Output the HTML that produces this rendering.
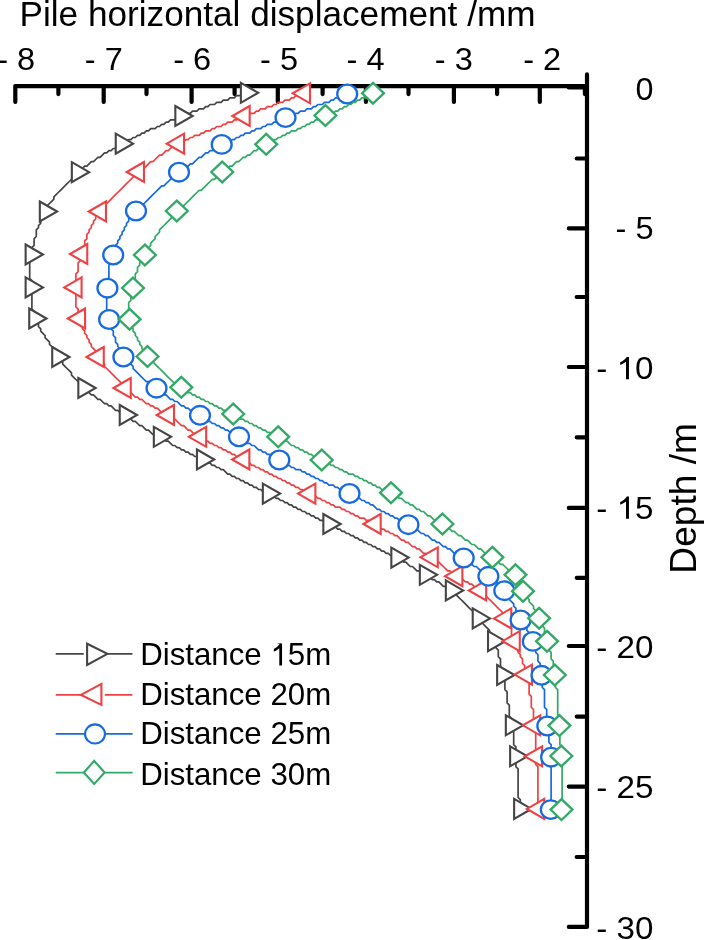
<!DOCTYPE html><html><head><meta charset="utf-8"><style>html,body{margin:0;padding:0;background:#fff;}svg{display:block;will-change:transform;}text{font-family:"Liberation Sans",sans-serif;fill:#000;}</style></head><body>
<svg width="704" height="940" viewBox="0 0 704 940">
<rect width="704" height="940" fill="#fff"/>
<text x="19.50" y="25.8" font-size="34.6" textLength="516.00" lengthAdjust="spacingAndGlyphs">Pile horizontal displacement /mm</text>
<path d="M15.2 86.2H587 M15.30 86.2V101.9 M103.70 86.2V101.9 M191.60 86.2V101.9 M277.80 86.2V101.9 M365.90 86.2V101.9 M453.90 86.2V101.9 M539.80 86.2V101.9 M58.40 86.2V94.1 M146.50 86.2V94.1 M234.60 86.2V94.1 M322.60 86.2V94.1 M408.50 86.2V94.1 M497.10 86.2V94.1 M584.90 86.2V94.1" stroke="#000" stroke-width="4.2" fill="none" stroke-linecap="round"/>
<path d="M587 74.4V926.9 M568.8 87.50H587 M568.8 228.30H587 M568.8 367.00H587 M568.8 507.90H587 M568.8 646.00H587 M568.8 786.60H587 M568.8 926.90H587 M576.7 158.50H587 M576.7 297.00H587 M576.7 437.30H587 M576.7 577.80H587 M576.7 716.60H587 M576.7 857.00H587" stroke="#000" stroke-width="4.2" fill="none" stroke-linecap="round"/>
<text x="16.15" y="69.70" font-size="31.20" text-anchor="middle" textLength="38.00" lengthAdjust="spacingAndGlyphs">- 8</text>
<text x="103.85" y="69.70" font-size="31.20" text-anchor="middle" textLength="38.00" lengthAdjust="spacingAndGlyphs">- 7</text>
<text x="192.15" y="69.70" font-size="31.20" text-anchor="middle" textLength="38.00" lengthAdjust="spacingAndGlyphs">- 6</text>
<text x="279.00" y="69.70" font-size="31.20" text-anchor="middle" textLength="38.00" lengthAdjust="spacingAndGlyphs">- 5</text>
<text x="365.60" y="69.70" font-size="31.20" text-anchor="middle" textLength="38.00" lengthAdjust="spacingAndGlyphs">- 4</text>
<text x="453.85" y="69.70" font-size="31.20" text-anchor="middle" textLength="38.00" lengthAdjust="spacingAndGlyphs">- 3</text>
<text x="542.15" y="69.70" font-size="31.20" text-anchor="middle" textLength="38.00" lengthAdjust="spacingAndGlyphs">- 2</text>
<text x="653.50" y="100.25" font-size="31.20" text-anchor="end" textLength="18.00" lengthAdjust="spacingAndGlyphs">0</text>
<text x="653.50" y="238.85" font-size="31.20" text-anchor="end" textLength="38.00" lengthAdjust="spacingAndGlyphs">- 5</text>
<text x="653.50" y="379.25" font-size="31.20" text-anchor="end" textLength="57.20" lengthAdjust="spacingAndGlyphs">- 10</text>
<text x="653.50" y="518.85" font-size="31.20" text-anchor="end" textLength="57.20" lengthAdjust="spacingAndGlyphs">- 15</text>
<text x="653.50" y="657.85" font-size="31.20" text-anchor="end" textLength="57.20" lengthAdjust="spacingAndGlyphs">- 20</text>
<text x="653.50" y="798.35" font-size="31.20" text-anchor="end" textLength="57.20" lengthAdjust="spacingAndGlyphs">- 25</text>
<text x="653.50" y="938.85" font-size="31.20" text-anchor="end" textLength="57.20" lengthAdjust="spacingAndGlyphs">- 30</text>
<text transform="translate(695.60 498.40) rotate(-90)" x="0" y="0" font-size="36.5" text-anchor="middle" textLength="150.50" lengthAdjust="spacingAndGlyphs">Depth /m</text>
<path d="M247.50 93.50L245.30 93.50L243.10 93.50L240.90 95.70L238.70 95.70L236.50 95.70L234.30 97.90L232.10 97.90L229.90 97.90L227.70 100.10L225.50 100.10L223.30 100.10L221.10 102.30L218.90 102.30L216.70 102.30L214.50 104.50L212.30 104.50L210.10 104.50L207.90 106.70L205.70 106.70L203.50 108.90L201.30 108.90L199.10 108.90L196.90 111.10L194.70 111.10L192.50 111.10L190.30 113.30L188.10 113.30L185.90 115.50L183.70 115.50L181.50 115.50L179.30 117.70L177.10 117.70L174.90 119.90L172.70 119.90L170.50 119.90L168.30 122.10L166.10 122.10L163.90 124.30L161.70 124.30L159.50 126.50L157.30 126.50L155.10 128.70L152.90 128.70L150.70 128.70L148.50 130.90L146.30 130.90L144.10 133.10L141.90 133.10L139.70 135.30L137.50 135.30L135.30 137.50L133.10 137.50L130.90 139.70L128.70 139.70L126.50 141.90L124.30 141.90L122.10 144.10L119.90 144.10L117.70 146.30L115.50 148.50L113.30 148.50L111.10 150.70L108.90 150.70L106.70 152.90L104.50 152.90L102.30 155.10L100.10 157.30L97.90 157.30L95.70 159.50L93.50 161.70L91.30 161.70L89.10 163.90L86.90 166.10L84.70 166.10L82.50 168.30L80.30 170.50L78.10 172.70L75.90 174.90L73.70 177.10L71.50 179.30L69.30 181.50L67.10 183.70L64.90 185.90L62.70 188.10L60.50 190.30L58.30 192.50L56.10 194.70L53.90 196.90L53.90 199.10L51.70 201.30L49.50 203.50L47.30 205.70L47.30 207.90L45.10 210.10L45.10 212.30L42.90 214.50L42.90 216.70L40.70 218.90L40.70 221.10L40.70 223.30L38.50 225.50L38.50 227.70L36.30 229.90L36.30 232.10L36.30 234.30L36.30 236.50L34.10 238.70L34.10 240.90L34.10 243.10L34.10 245.30L31.90 247.50L31.90 249.70L31.90 251.90L31.90 254.10L31.90 256.30L29.70 258.50L29.70 260.70L29.70 262.90L29.70 265.10L29.70 267.30L29.70 269.50L29.70 271.70L29.70 273.90L29.70 276.10L29.70 278.30L31.90 280.50L31.90 282.70L31.90 284.90L31.90 287.10L31.90 289.30L31.90 291.50L31.90 293.70L31.90 295.90L31.90 298.10L31.90 300.30L31.90 302.50L31.90 304.70L31.90 306.90L31.90 309.10L34.10 311.30L34.10 313.50L34.10 315.70L34.10 317.90L36.30 320.10L36.30 322.30L38.50 324.50L38.50 326.70L40.70 328.90L40.70 331.10L42.90 333.30L45.10 335.50L45.10 337.70L47.30 339.90L49.50 342.10L49.50 344.30L51.70 346.50L53.90 348.70L53.90 350.90L56.10 353.10L58.30 355.30L58.30 357.50L60.50 359.70L62.70 361.90L62.70 364.10L64.90 366.30L67.10 368.50L69.30 370.70L71.50 372.90L71.50 375.10L73.70 377.30L75.90 379.50L78.10 381.70L80.30 383.90L82.50 386.10L84.70 388.30L86.90 390.50L89.10 392.70L91.30 394.90L93.50 394.90L95.70 397.10L97.90 399.30L100.10 399.30L102.30 401.50L104.50 403.70L106.70 403.70L108.90 405.90L111.10 405.90L113.30 408.10L115.50 410.30L117.70 410.30L119.90 412.50L122.10 412.50L124.30 414.70L126.50 416.90L128.70 416.90L130.90 419.10L133.10 421.30L135.30 421.30L137.50 423.50L139.70 425.70L141.90 425.70L144.10 427.90L146.30 430.10L148.50 430.10L150.70 432.30L152.90 434.50L155.10 434.50L157.30 436.70L159.50 436.70L161.70 438.90L163.90 438.90L166.10 441.10L168.30 441.10L170.50 443.30L172.70 445.50L174.90 445.50L177.10 447.70L179.30 447.70L181.50 449.90L183.70 449.90L185.90 452.10L188.10 452.10L190.30 454.30L192.50 454.30L194.70 456.50L196.90 456.50L199.10 458.70L201.30 458.70L203.50 460.90L205.70 460.90L207.90 463.10L210.10 463.10L212.30 465.30L214.50 465.30L216.70 467.50L218.90 467.50L221.10 469.70L223.30 469.70L225.50 471.90L227.70 474.10L229.90 474.10L232.10 476.30L234.30 476.30L236.50 478.50L238.70 478.50L240.90 480.70L243.10 480.70L245.30 482.90L247.50 482.90L249.70 485.10L251.90 485.10L254.10 487.30L256.30 487.30L258.50 489.50L260.70 489.50L262.90 491.70L265.10 491.70L267.30 493.90L269.50 493.90L271.70 496.10L273.90 496.10L276.10 498.30L278.30 498.30L280.50 500.50L282.70 500.50L284.90 502.70L287.10 502.70L289.30 504.90L291.50 504.90L293.70 507.10L295.90 507.10L298.10 509.30L300.30 509.30L302.50 511.50L304.70 511.50L306.90 513.70L309.10 513.70L311.30 515.90L313.50 515.90L315.70 518.10L317.90 518.10L320.10 520.30L322.30 520.30L324.50 522.50L326.70 522.50L328.90 524.70L331.10 524.70L333.30 526.90L335.50 526.90L337.70 529.10L339.90 529.10L342.10 531.30L344.30 531.30L346.50 533.50L348.70 533.50L350.90 535.70L353.10 535.70L355.30 537.90L357.50 537.90L359.70 540.10L361.90 540.10L364.10 542.30L366.30 542.30L368.50 544.50L370.70 544.50L372.90 546.70L375.10 546.70L377.30 548.90L379.50 548.90L381.70 551.10L383.90 551.10L386.10 553.30L388.30 553.30L390.50 555.50L392.70 555.50L394.90 557.70L397.10 557.70L399.30 559.90L401.50 559.90L403.70 562.10L405.90 562.10L408.10 564.30L410.30 566.50L412.50 566.50L414.70 568.70L416.90 570.90L419.10 570.90L421.30 573.10L423.50 573.10L425.70 575.30L427.90 577.50L430.10 577.50L432.30 579.70L434.50 579.70L436.70 581.90L438.90 581.90L441.10 584.10L443.30 586.30L445.50 586.30L447.70 588.50L449.90 590.70L452.10 590.70L454.30 592.90L456.50 595.10L458.70 597.30L460.90 599.50L463.10 601.70L465.30 603.90L467.50 606.10L469.70 608.30L471.90 610.50L474.10 612.70L476.30 614.90L478.50 617.10L480.70 619.30L482.90 621.50L482.90 623.70L485.10 625.90L487.30 628.10L489.50 630.30L489.50 632.50L491.70 634.70L491.70 636.90L493.90 639.10L493.90 641.30L496.10 643.50L496.10 645.70L496.10 647.90L498.30 650.10L498.30 652.30L498.30 654.50L498.30 656.70L500.50 658.90L500.50 661.10L500.50 663.30L500.50 665.50L500.50 667.70L502.70 669.90L502.70 672.10L502.70 674.30L502.70 676.50L504.90 678.70L504.90 680.90L504.90 683.10L504.90 685.30L504.90 687.50L504.90 689.70L507.10 691.90L507.10 694.10L507.10 696.30L507.10 698.50L507.10 700.70L507.10 702.90L509.30 705.10L509.30 707.30L509.30 709.50L509.30 711.70L509.30 713.90L509.30 716.10L511.50 718.30L511.50 720.50L511.50 722.70L511.50 724.90L511.50 727.10L511.50 729.30L513.70 731.50L513.70 733.70L513.70 735.90L513.70 738.10L513.70 740.30L513.70 742.50L513.70 744.70L515.90 746.90L515.90 749.10L515.90 751.30L515.90 753.50L515.90 755.70L515.90 757.90L515.90 760.10L515.90 762.30L515.90 764.50L515.90 766.70L518.10 768.90L518.10 771.10L518.10 773.30L518.10 775.50L518.10 777.70L518.10 779.90L518.10 782.10L518.10 784.30L518.10 786.50L518.10 788.70L518.10 790.90L518.10 793.10L518.10 795.30L518.10 797.50L520.30 799.70L520.30 801.90L520.30 804.10L520.30 806.30L520.30 808.50" stroke="#454545" stroke-width="1.7" fill="none" stroke-linejoin="round"/>
<g stroke="#454545" stroke-width="2.10" fill="#fff">
<path d="M240.88 82.80L258.20 92.80L240.88 102.80Z"/>
<path d="M175.33 106.00L192.65 116.00L175.33 126.00Z"/>
<path d="M115.73 133.70L133.05 143.70L115.73 153.70Z"/>
<path d="M71.83 162.20L89.15 172.20L71.83 182.20Z"/>
<path d="M39.83 201.50L57.15 211.50L39.83 221.50Z"/>
<path d="M25.63 244.50L42.95 254.50L25.63 264.50Z"/>
<path d="M25.63 277.40L42.95 287.40L25.63 297.40Z"/>
<path d="M29.23 308.50L46.55 318.50L29.23 328.50Z"/>
<path d="M52.23 347.00L69.55 357.00L52.23 367.00Z"/>
<path d="M78.33 378.00L95.65 388.00L78.33 398.00Z"/>
<path d="M119.73 405.00L137.05 415.00L119.73 425.00Z"/>
<path d="M153.83 426.80L171.15 436.80L153.83 446.80Z"/>
<path d="M196.93 449.50L214.25 459.50L196.93 469.50Z"/>
<path d="M262.83 483.60L280.15 493.60L262.83 503.60Z"/>
<path d="M323.33 514.00L340.65 524.00L323.33 534.00Z"/>
<path d="M391.33 547.60L408.65 557.60L391.33 567.60Z"/>
<path d="M419.83 564.80L437.15 574.80L419.83 584.80Z"/>
<path d="M445.83 580.40L463.15 590.40L445.83 600.40Z"/>
<path d="M472.73 608.40L490.05 618.40L472.73 628.40Z"/>
<path d="M488.03 631.20L505.35 641.20L488.03 651.20Z"/>
<path d="M497.13 665.00L514.45 675.00L497.13 685.00Z"/>
<path d="M505.83 715.30L523.15 725.30L505.83 735.30Z"/>
<path d="M510.13 746.30L527.45 756.30L510.13 766.30Z"/>
<path d="M514.13 798.90L531.45 808.90L514.13 818.90Z"/>
</g>
<path d="M304.70 93.50L302.50 93.50L300.30 95.70L298.10 95.70L295.90 95.70L293.70 97.90L291.50 97.90L289.30 100.10L287.10 100.10L284.90 100.10L282.70 102.30L280.50 102.30L278.30 102.30L276.10 104.50L273.90 104.50L271.70 106.70L269.50 106.70L267.30 106.70L265.10 108.90L262.90 108.90L260.70 108.90L258.50 111.10L256.30 111.10L254.10 113.30L251.90 113.30L249.70 113.30L247.50 115.50L245.30 115.50L243.10 117.70L240.90 117.70L238.70 117.70L236.50 119.90L234.30 119.90L232.10 122.10L229.90 122.10L227.70 122.10L225.50 124.30L223.30 124.30L221.10 126.50L218.90 126.50L216.70 126.50L214.50 128.70L212.30 128.70L210.10 130.90L207.90 130.90L205.70 130.90L203.50 133.10L201.30 133.10L199.10 135.30L196.90 135.30L194.70 135.30L192.50 137.50L190.30 137.50L188.10 139.70L185.90 139.70L183.70 141.90L181.50 141.90L179.30 144.10L177.10 144.10L174.90 146.30L172.70 146.30L170.50 148.50L168.30 150.70L166.10 150.70L163.90 152.90L161.70 155.10L159.50 155.10L157.30 157.30L155.10 159.50L152.90 161.70L150.70 161.70L148.50 163.90L146.30 166.10L144.10 168.30L141.90 170.50L139.70 170.50L137.50 172.70L135.30 174.90L133.10 177.10L130.90 179.30L128.70 181.50L126.50 183.70L124.30 185.90L122.10 188.10L119.90 190.30L117.70 192.50L115.50 194.70L113.30 196.90L111.10 199.10L108.90 201.30L106.70 203.50L104.50 205.70L102.30 207.90L100.10 210.10L100.10 212.30L97.90 214.50L95.70 216.70L95.70 218.90L93.50 221.10L93.50 223.30L91.30 225.50L91.30 227.70L89.10 229.90L89.10 232.10L86.90 234.30L86.90 236.50L86.90 238.70L84.70 240.90L84.70 243.10L84.70 245.30L82.50 247.50L82.50 249.70L82.50 251.90L80.30 254.10L80.30 256.30L80.30 258.50L80.30 260.70L78.10 262.90L78.10 265.10L78.10 267.30L78.10 269.50L78.10 271.70L75.90 273.90L75.90 276.10L75.90 278.30L75.90 280.50L75.90 282.70L75.90 284.90L75.90 287.10L75.90 289.30L75.90 291.50L75.90 293.70L75.90 295.90L75.90 298.10L75.90 300.30L75.90 302.50L75.90 304.70L75.90 306.90L78.10 309.10L78.10 311.30L78.10 313.50L78.10 315.70L80.30 317.90L80.30 320.10L80.30 322.30L82.50 324.50L82.50 326.70L82.50 328.90L84.70 331.10L84.70 333.30L86.90 335.50L86.90 337.70L89.10 339.90L89.10 342.10L91.30 344.30L91.30 346.50L93.50 348.70L95.70 350.90L95.70 353.10L97.90 355.30L100.10 357.50L100.10 359.70L102.30 361.90L104.50 364.10L104.50 366.30L106.70 368.50L108.90 370.70L111.10 372.90L113.30 375.10L115.50 377.30L117.70 379.50L119.90 381.70L122.10 383.90L124.30 386.10L126.50 388.30L128.70 390.50L130.90 392.70L133.10 394.90L135.30 397.10L137.50 397.10L139.70 399.30L141.90 399.30L144.10 401.50L146.30 403.70L148.50 403.70L150.70 405.90L152.90 405.90L155.10 408.10L157.30 408.10L159.50 410.30L161.70 412.50L163.90 412.50L166.10 414.70L168.30 414.70L170.50 416.90L172.70 419.10L174.90 419.10L177.10 421.30L179.30 423.50L181.50 425.70L183.70 425.70L185.90 427.90L188.10 430.10L190.30 430.10L192.50 432.30L194.70 434.50L196.90 434.50L199.10 436.70L201.30 438.90L203.50 438.90L205.70 441.10L207.90 441.10L210.10 443.30L212.30 443.30L214.50 445.50L216.70 445.50L218.90 447.70L221.10 447.70L223.30 449.90L225.50 449.90L227.70 452.10L229.90 452.10L232.10 454.30L234.30 454.30L236.50 456.50L238.70 456.50L240.90 458.70L243.10 460.90L245.30 460.90L247.50 463.10L249.70 463.10L251.90 465.30L254.10 465.30L256.30 467.50L258.50 467.50L260.70 469.70L262.90 469.70L265.10 471.90L267.30 471.90L269.50 474.10L271.70 474.10L273.90 476.30L276.10 476.30L278.30 478.50L280.50 478.50L282.70 480.70L284.90 480.70L287.10 482.90L289.30 482.90L291.50 485.10L293.70 485.10L295.90 487.30L298.10 487.30L300.30 489.50L302.50 489.50L304.70 491.70L306.90 491.70L309.10 493.90L311.30 493.90L313.50 496.10L315.70 496.10L317.90 498.30L320.10 498.30L322.30 500.50L324.50 500.50L326.70 502.70L328.90 502.70L331.10 504.90L333.30 504.90L335.50 507.10L337.70 507.10L339.90 507.10L342.10 509.30L344.30 509.30L346.50 511.50L348.70 511.50L350.90 513.70L353.10 513.70L355.30 515.90L357.50 515.90L359.70 518.10L361.90 518.10L364.10 518.10L366.30 520.30L368.50 520.30L370.70 522.50L372.90 522.50L375.10 524.70L377.30 524.70L379.50 526.90L381.70 529.10L383.90 529.10L386.10 531.30L388.30 531.30L390.50 533.50L392.70 533.50L394.90 535.70L397.10 535.70L399.30 537.90L401.50 540.10L403.70 540.10L405.90 542.30L408.10 542.30L410.30 544.50L412.50 546.70L414.70 546.70L416.90 548.90L419.10 548.90L421.30 551.10L423.50 553.30L425.70 553.30L427.90 555.50L430.10 557.70L432.30 557.70L434.50 559.90L436.70 562.10L438.90 562.10L441.10 564.30L443.30 566.50L445.50 568.70L447.70 570.90L449.90 570.90L452.10 573.10L454.30 575.30L456.50 577.50L458.70 577.50L460.90 579.70L463.10 579.70L465.30 581.90L467.50 581.90L469.70 584.10L471.90 584.10L474.10 586.30L476.30 588.50L478.50 590.70L480.70 590.70L482.90 592.90L485.10 595.10L487.30 597.30L489.50 599.50L491.70 601.70L493.90 603.90L496.10 606.10L498.30 608.30L500.50 610.50L502.70 612.70L502.70 614.90L504.90 617.10L507.10 619.30L507.10 621.50L509.30 623.70L509.30 625.90L511.50 628.10L511.50 630.30L511.50 632.50L511.50 634.70L513.70 636.90L513.70 639.10L513.70 641.30L515.90 643.50L515.90 645.70L518.10 647.90L518.10 650.10L518.10 652.30L520.30 654.50L520.30 656.70L522.50 658.90L522.50 661.10L522.50 663.30L524.70 665.50L524.70 667.70L524.70 669.90L526.90 672.10L526.90 674.30L526.90 676.50L526.90 678.70L526.90 680.90L529.10 683.10L529.10 685.30L529.10 687.50L529.10 689.70L529.10 691.90L529.10 694.10L531.30 696.30L531.30 698.50L531.30 700.70L531.30 702.90L531.30 705.10L531.30 707.30L533.50 709.50L533.50 711.70L533.50 713.90L533.50 716.10L533.50 718.30L533.50 720.50L533.50 722.70L533.50 724.90L535.70 727.10L535.70 729.30L535.70 731.50L535.70 733.70L535.70 735.90L535.70 738.10L535.70 740.30L535.70 742.50L535.70 744.70L535.70 746.90L535.70 749.10L535.70 751.30L535.70 753.50L535.70 755.70L535.70 757.90L535.70 760.10L535.70 762.30L535.70 764.50L537.90 766.70L537.90 768.90L537.90 771.10L537.90 773.30L537.90 775.50L537.90 777.70L537.90 779.90L537.90 782.10L537.90 784.30L537.90 786.50L537.90 788.70L537.90 790.90L537.90 793.10L537.90 795.30L537.90 797.50L537.90 799.70L537.90 801.90L537.90 804.10L537.90 806.30L537.90 808.50" stroke="#ef4143" stroke-width="1.7" fill="none" stroke-linejoin="round"/>
<g stroke="#ef4143" stroke-width="2.10" fill="#fff">
<path d="M309.97 83.30L292.65 93.30L309.97 103.30Z"/>
<path d="M249.67 106.00L232.35 116.00L249.67 126.00Z"/>
<path d="M184.07 133.70L166.75 143.70L184.07 153.70Z"/>
<path d="M143.97 162.00L126.65 172.00L143.97 182.00Z"/>
<path d="M105.97 201.50L88.65 211.50L105.97 221.50Z"/>
<path d="M87.27 244.00L69.95 254.00L87.27 264.00Z"/>
<path d="M81.57 277.40L64.25 287.40L81.57 297.40Z"/>
<path d="M85.07 308.50L67.75 318.50L85.07 328.50Z"/>
<path d="M103.77 347.00L86.45 357.00L103.77 367.00Z"/>
<path d="M130.77 378.00L113.45 388.00L130.77 398.00Z"/>
<path d="M173.97 405.00L156.65 415.00L173.97 425.00Z"/>
<path d="M206.17 426.80L188.85 436.80L206.17 446.80Z"/>
<path d="M249.37 449.50L232.05 459.50L249.37 469.50Z"/>
<path d="M315.37 483.60L298.05 493.60L315.37 503.60Z"/>
<path d="M380.67 514.00L363.35 524.00L380.67 534.00Z"/>
<path d="M437.77 547.30L420.45 557.30L437.77 567.30Z"/>
<path d="M462.37 566.20L445.05 576.20L462.37 586.20Z"/>
<path d="M486.17 580.40L468.85 590.40L486.17 600.40Z"/>
<path d="M511.27 608.40L493.95 618.40L511.27 628.40Z"/>
<path d="M519.77 631.20L502.45 641.20L519.77 651.20Z"/>
<path d="M531.97 664.60L514.65 674.60L531.97 684.60Z"/>
<path d="M540.17 715.30L522.85 725.30L540.17 735.30Z"/>
<path d="M542.07 746.30L524.75 756.30L542.07 766.30Z"/>
<path d="M544.27 798.90L526.95 808.90L544.27 818.90Z"/>
</g>
<path d="M346.50 93.50L344.30 95.70L342.10 95.70L339.90 97.90L337.70 97.90L335.50 97.90L333.30 100.10L331.10 100.10L328.90 102.30L326.70 102.30L324.50 102.30L322.30 104.50L320.10 104.50L317.90 104.50L315.70 106.70L313.50 106.70L311.30 108.90L309.10 108.90L306.90 108.90L304.70 111.10L302.50 111.10L300.30 111.10L298.10 113.30L295.90 113.30L293.70 115.50L291.50 115.50L289.30 115.50L287.10 117.70L284.90 117.70L282.70 119.90L280.50 119.90L278.30 119.90L276.10 122.10L273.90 122.10L271.70 124.30L269.50 124.30L267.30 124.30L265.10 126.50L262.90 126.50L260.70 128.70L258.50 128.70L256.30 128.70L254.10 130.90L251.90 130.90L249.70 133.10L247.50 133.10L245.30 133.10L243.10 135.30L240.90 135.30L238.70 137.50L236.50 137.50L234.30 139.70L232.10 139.70L229.90 141.90L227.70 141.90L225.50 141.90L223.30 144.10L221.10 146.30L218.90 146.30L216.70 148.50L214.50 148.50L212.30 150.70L210.10 150.70L207.90 152.90L205.70 152.90L203.50 155.10L201.30 157.30L199.10 157.30L196.90 159.50L194.70 161.70L192.50 163.90L190.30 163.90L188.10 166.10L185.90 168.30L183.70 168.30L181.50 170.50L179.30 172.70L177.10 174.90L174.90 177.10L172.70 177.10L170.50 179.30L168.30 181.50L166.10 183.70L163.90 185.90L161.70 185.90L159.50 188.10L157.30 190.30L155.10 192.50L152.90 194.70L150.70 196.90L148.50 199.10L146.30 201.30L144.10 203.50L141.90 205.70L139.70 207.90L137.50 210.10L135.30 212.30L133.10 214.50L130.90 216.70L128.70 218.90L128.70 221.10L126.50 223.30L126.50 225.50L124.30 227.70L124.30 229.90L122.10 232.10L122.10 234.30L119.90 236.50L119.90 238.70L117.70 240.90L117.70 243.10L115.50 245.30L115.50 247.50L115.50 249.70L113.30 251.90L113.30 254.10L113.30 256.30L111.10 258.50L111.10 260.70L111.10 262.90L108.90 265.10L108.90 267.30L108.90 269.50L108.90 271.70L108.90 273.90L108.90 276.10L108.90 278.30L108.90 280.50L106.70 282.70L106.70 284.90L106.70 287.10L106.70 289.30L106.70 291.50L106.70 293.70L106.70 295.90L106.70 298.10L106.70 300.30L106.70 302.50L106.70 304.70L106.70 306.90L106.70 309.10L106.70 311.30L108.90 313.50L108.90 315.70L108.90 317.90L108.90 320.10L111.10 322.30L111.10 324.50L111.10 326.70L111.10 328.90L113.30 331.10L113.30 333.30L113.30 335.50L115.50 337.70L115.50 339.90L115.50 342.10L117.70 344.30L117.70 346.50L119.90 348.70L119.90 350.90L122.10 353.10L122.10 355.30L124.30 357.50L126.50 359.70L128.70 361.90L130.90 364.10L133.10 366.30L133.10 368.50L135.30 370.70L137.50 372.90L139.70 375.10L141.90 377.30L144.10 379.50L146.30 381.70L148.50 381.70L150.70 383.90L152.90 386.10L155.10 388.30L157.30 390.50L159.50 390.50L161.70 392.70L163.90 394.90L166.10 394.90L168.30 397.10L170.50 399.30L172.70 399.30L174.90 401.50L177.10 401.50L179.30 403.70L181.50 405.90L183.70 405.90L185.90 408.10L188.10 408.10L190.30 410.30L192.50 412.50L194.70 412.50L196.90 414.70L199.10 414.70L201.30 416.90L203.50 416.90L205.70 419.10L207.90 421.30L210.10 421.30L212.30 423.50L214.50 423.50L216.70 425.70L218.90 425.70L221.10 427.90L223.30 427.90L225.50 430.10L227.70 430.10L229.90 432.30L232.10 434.50L234.30 434.50L236.50 436.70L238.70 436.70L240.90 438.90L243.10 438.90L245.30 441.10L247.50 443.30L249.70 443.30L251.90 445.50L254.10 445.50L256.30 447.70L258.50 449.90L260.70 449.90L262.90 452.10L265.10 452.10L267.30 454.30L269.50 454.30L271.70 456.50L273.90 458.70L276.10 458.70L278.30 460.90L280.50 460.90L282.70 463.10L284.90 463.10L287.10 465.30L289.30 465.30L291.50 467.50L293.70 467.50L295.90 469.70L298.10 469.70L300.30 469.70L302.50 471.90L304.70 471.90L306.90 474.10L309.10 474.10L311.30 476.30L313.50 476.30L315.70 478.50L317.90 478.50L320.10 480.70L322.30 480.70L324.50 482.90L326.70 482.90L328.90 485.10L331.10 485.10L333.30 485.10L335.50 487.30L337.70 487.30L339.90 489.50L342.10 489.50L344.30 491.70L346.50 491.70L348.70 493.90L350.90 493.90L353.10 496.10L355.30 496.10L357.50 498.30L359.70 498.30L361.90 500.50L364.10 500.50L366.30 502.70L368.50 502.70L370.70 504.90L372.90 504.90L375.10 507.10L377.30 509.30L379.50 509.30L381.70 511.50L383.90 511.50L386.10 513.70L388.30 513.70L390.50 515.90L392.70 515.90L394.90 518.10L397.10 518.10L399.30 520.30L401.50 522.50L403.70 522.50L405.90 524.70L408.10 524.70L410.30 526.90L412.50 526.90L414.70 529.10L416.90 529.10L419.10 531.30L421.30 533.50L423.50 533.50L425.70 535.70L427.90 535.70L430.10 537.90L432.30 540.10L434.50 540.10L436.70 542.30L438.90 542.30L441.10 544.50L443.30 546.70L445.50 546.70L447.70 548.90L449.90 548.90L452.10 551.10L454.30 553.30L456.50 553.30L458.70 555.50L460.90 557.70L463.10 557.70L465.30 559.90L467.50 562.10L469.70 562.10L471.90 564.30L474.10 566.50L476.30 566.50L478.50 568.70L480.70 570.90L482.90 573.10L485.10 575.30L487.30 575.30L489.50 577.50L491.70 579.70L493.90 581.90L496.10 581.90L498.30 584.10L500.50 586.30L502.70 588.50L504.90 590.70L507.10 592.90L507.10 595.10L509.30 597.30L509.30 599.50L511.50 601.70L513.70 603.90L513.70 606.10L515.90 608.30L515.90 610.50L518.10 612.70L518.10 614.90L520.30 617.10L520.30 619.30L522.50 621.50L522.50 623.70L524.70 625.90L526.90 628.10L526.90 630.30L529.10 632.50L531.30 634.70L531.30 636.90L531.30 639.10L533.50 641.30L533.50 643.50L535.70 645.70L535.70 647.90L535.70 650.10L535.70 652.30L537.90 654.50L537.90 656.70L537.90 658.90L537.90 661.10L540.10 663.30L540.10 665.50L540.10 667.70L540.10 669.90L540.10 672.10L542.30 674.30L542.30 676.50L542.30 678.70L542.30 680.90L542.30 683.10L542.30 685.30L542.30 687.50L544.50 689.70L544.50 691.90L544.50 694.10L544.50 696.30L544.50 698.50L544.50 700.70L544.50 702.90L544.50 705.10L544.50 707.30L546.70 709.50L546.70 711.70L546.70 713.90L546.70 716.10L546.70 718.30L546.70 720.50L546.70 722.70L546.70 724.90L546.70 727.10L548.90 729.30L548.90 731.50L548.90 733.70L548.90 735.90L548.90 738.10L548.90 740.30L548.90 742.50L551.10 744.70L551.10 746.90L551.10 749.10L551.10 751.30L551.10 753.50L551.10 755.70L551.10 757.90L551.10 760.10L551.10 762.30L551.10 764.50L551.10 766.70L551.10 768.90L551.10 771.10L551.10 773.30L551.10 775.50L551.10 777.70L551.10 779.90L551.10 782.10L551.10 784.30L551.10 786.50L551.10 788.70L551.10 790.90L551.10 793.10L551.10 795.30L551.10 797.50L551.10 799.70L551.10 801.90L551.10 804.10L551.10 806.30L551.10 808.50L551.10 810.70" stroke="#176ae0" stroke-width="1.7" fill="none" stroke-linejoin="round"/>
<g stroke="#176ae0" stroke-width="2.30" fill="#fff">
<ellipse cx="347.20" cy="94.00" rx="9.95" ry="9.30"/>
<ellipse cx="285.50" cy="117.60" rx="9.95" ry="9.30"/>
<ellipse cx="221.70" cy="144.40" rx="9.95" ry="9.30"/>
<ellipse cx="179.00" cy="172.20" rx="9.95" ry="9.30"/>
<ellipse cx="136.00" cy="211.00" rx="9.95" ry="9.30"/>
<ellipse cx="113.20" cy="255.00" rx="9.95" ry="9.30"/>
<ellipse cx="107.40" cy="288.20" rx="9.95" ry="9.30"/>
<ellipse cx="109.10" cy="319.50" rx="9.95" ry="9.30"/>
<ellipse cx="123.40" cy="357.00" rx="9.95" ry="9.30"/>
<ellipse cx="156.50" cy="388.20" rx="9.95" ry="9.30"/>
<ellipse cx="200.00" cy="415.30" rx="9.95" ry="9.30"/>
<ellipse cx="239.00" cy="436.80" rx="9.95" ry="9.30"/>
<ellipse cx="279.30" cy="460.00" rx="9.95" ry="9.30"/>
<ellipse cx="349.50" cy="493.50" rx="9.95" ry="9.30"/>
<ellipse cx="408.40" cy="524.70" rx="9.95" ry="9.30"/>
<ellipse cx="463.70" cy="558.00" rx="9.95" ry="9.30"/>
<ellipse cx="488.40" cy="576.30" rx="9.95" ry="9.30"/>
<ellipse cx="504.30" cy="590.70" rx="9.95" ry="9.30"/>
<ellipse cx="520.60" cy="620.00" rx="9.95" ry="9.30"/>
<ellipse cx="532.80" cy="641.40" rx="9.95" ry="9.30"/>
<ellipse cx="541.50" cy="675.30" rx="9.95" ry="9.30"/>
<ellipse cx="547.30" cy="726.00" rx="9.95" ry="9.30"/>
<ellipse cx="551.10" cy="757.20" rx="9.95" ry="9.30"/>
<ellipse cx="550.80" cy="809.60" rx="9.95" ry="9.30"/>
</g>
<path d="M372.90 93.50L370.70 95.70L368.50 95.70L366.30 97.90L364.10 97.90L361.90 97.90L359.70 100.10L357.50 100.10L355.30 102.30L353.10 102.30L350.90 104.50L348.70 104.50L346.50 106.70L344.30 106.70L342.10 108.90L339.90 108.90L337.70 111.10L335.50 111.10L333.30 113.30L331.10 113.30L328.90 113.30L326.70 115.50L324.50 115.50L322.30 117.70L320.10 117.70L317.90 119.90L315.70 119.90L313.50 122.10L311.30 122.10L309.10 124.30L306.90 124.30L304.70 126.50L302.50 126.50L300.30 128.70L298.10 128.70L295.90 130.90L293.70 130.90L291.50 130.90L289.30 133.10L287.10 133.10L284.90 135.30L282.70 135.30L280.50 137.50L278.30 137.50L276.10 139.70L273.90 139.70L271.70 141.90L269.50 144.10L267.30 144.10L265.10 146.30L262.90 146.30L260.70 148.50L258.50 148.50L256.30 150.70L254.10 150.70L251.90 152.90L249.70 155.10L247.50 155.10L245.30 157.30L243.10 157.30L240.90 159.50L238.70 161.70L236.50 161.70L234.30 163.90L232.10 166.10L229.90 166.10L227.70 168.30L225.50 170.50L223.30 172.70L221.10 172.70L218.90 174.90L216.70 177.10L214.50 179.30L212.30 179.30L210.10 181.50L207.90 183.70L205.70 185.90L203.50 188.10L201.30 190.30L199.10 190.30L196.90 192.50L194.70 194.70L192.50 196.90L190.30 199.10L188.10 201.30L185.90 203.50L183.70 205.70L181.50 207.90L179.30 210.10L177.10 212.30L174.90 214.50L172.70 216.70L170.50 218.90L168.30 221.10L166.10 223.30L163.90 225.50L161.70 227.70L159.50 229.90L159.50 232.10L157.30 234.30L155.10 236.50L155.10 238.70L152.90 240.90L150.70 243.10L150.70 245.30L148.50 247.50L146.30 249.70L146.30 251.90L144.10 254.10L144.10 256.30L141.90 258.50L141.90 260.70L139.70 262.90L139.70 265.10L137.50 267.30L137.50 269.50L137.50 271.70L135.30 273.90L135.30 276.10L135.30 278.30L135.30 280.50L133.10 282.70L133.10 284.90L133.10 287.10L133.10 289.30L130.90 291.50L130.90 293.70L130.90 295.90L130.90 298.10L130.90 300.30L128.70 302.50L128.70 304.70L128.70 306.90L128.70 309.10L128.70 311.30L128.70 313.50L128.70 315.70L128.70 317.90L130.90 320.10L130.90 322.30L130.90 324.50L130.90 326.70L133.10 328.90L133.10 331.10L135.30 333.30L135.30 335.50L137.50 337.70L137.50 339.90L139.70 342.10L139.70 344.30L141.90 346.50L141.90 348.70L144.10 350.90L146.30 353.10L146.30 355.30L148.50 357.50L150.70 359.70L152.90 361.90L155.10 364.10L157.30 366.30L159.50 368.50L161.70 370.70L163.90 372.90L166.10 375.10L168.30 377.30L170.50 379.50L172.70 381.70L174.90 383.90L177.10 386.10L179.30 386.10L181.50 388.30L183.70 390.50L185.90 390.50L188.10 392.70L190.30 392.70L192.50 394.90L194.70 394.90L196.90 397.10L199.10 397.10L201.30 399.30L203.50 399.30L205.70 401.50L207.90 401.50L210.10 403.70L212.30 403.70L214.50 405.90L216.70 405.90L218.90 408.10L221.10 408.10L223.30 410.30L225.50 410.30L227.70 412.50L229.90 412.50L232.10 414.70L234.30 414.70L236.50 416.90L238.70 416.90L240.90 419.10L243.10 419.10L245.30 421.30L247.50 421.30L249.70 423.50L251.90 423.50L254.10 425.70L256.30 425.70L258.50 427.90L260.70 427.90L262.90 430.10L265.10 430.10L267.30 432.30L269.50 432.30L271.70 434.50L273.90 434.50L276.10 436.70L278.30 436.70L280.50 438.90L282.70 438.90L284.90 441.10L287.10 441.10L289.30 443.30L291.50 445.50L293.70 445.50L295.90 447.70L298.10 447.70L300.30 449.90L302.50 449.90L304.70 452.10L306.90 452.10L309.10 454.30L311.30 454.30L313.50 456.50L315.70 456.50L317.90 458.70L320.10 458.70L322.30 460.90L324.50 460.90L326.70 463.10L328.90 463.10L331.10 465.30L333.30 465.30L335.50 467.50L337.70 467.50L339.90 469.70L342.10 469.70L344.30 471.90L346.50 471.90L348.70 474.10L350.90 474.10L353.10 474.10L355.30 476.30L357.50 476.30L359.70 478.50L361.90 478.50L364.10 480.70L366.30 480.70L368.50 482.90L370.70 482.90L372.90 485.10L375.10 485.10L377.30 487.30L379.50 487.30L381.70 489.50L383.90 489.50L386.10 491.70L388.30 491.70L390.50 493.90L392.70 493.90L394.90 496.10L397.10 496.10L399.30 498.30L401.50 498.30L403.70 500.50L405.90 502.70L408.10 502.70L410.30 504.90L412.50 504.90L414.70 507.10L416.90 509.30L419.10 509.30L421.30 511.50L423.50 511.50L425.70 513.70L427.90 515.90L430.10 515.90L432.30 518.10L434.50 520.30L436.70 520.30L438.90 522.50L441.10 524.70L443.30 524.70L445.50 526.90L447.70 529.10L449.90 529.10L452.10 531.30L454.30 531.30L456.50 533.50L458.70 535.70L460.90 535.70L463.10 537.90L465.30 540.10L467.50 540.10L469.70 542.30L471.90 544.50L474.10 544.50L476.30 546.70L478.50 548.90L480.70 548.90L482.90 551.10L485.10 553.30L487.30 555.50L489.50 555.50L491.70 557.70L493.90 559.90L496.10 559.90L498.30 562.10L500.50 564.30L502.70 564.30L504.90 566.50L507.10 568.70L509.30 570.90L511.50 570.90L513.70 573.10L515.90 575.30L518.10 577.50L518.10 579.70L520.30 581.90L520.30 584.10L520.30 586.30L522.50 588.50L522.50 590.70L524.70 592.90L526.90 595.10L526.90 597.30L529.10 599.50L529.10 601.70L531.30 603.90L533.50 606.10L533.50 608.30L535.70 610.50L535.70 612.70L537.90 614.90L540.10 617.10L540.10 619.30L540.10 621.50L542.30 623.70L542.30 625.90L544.50 628.10L544.50 630.30L544.50 632.50L544.50 634.70L546.70 636.90L546.70 639.10L546.70 641.30L548.90 643.50L548.90 645.70L548.90 647.90L548.90 650.10L551.10 652.30L551.10 654.50L551.10 656.70L551.10 658.90L553.30 661.10L553.30 663.30L553.30 665.50L553.30 667.70L553.30 669.90L555.50 672.10L555.50 674.30L555.50 676.50L555.50 678.70L555.50 680.90L555.50 683.10L555.50 685.30L555.50 687.50L557.70 689.70L557.70 691.90L557.70 694.10L557.70 696.30L557.70 698.50L557.70 700.70L557.70 702.90L557.70 705.10L557.70 707.30L557.70 709.50L557.70 711.70L557.70 713.90L557.70 716.10L559.90 718.30L559.90 720.50L559.90 722.70L559.90 724.90L559.90 727.10L559.90 729.30L559.90 731.50L559.90 733.70L559.90 735.90L559.90 738.10L559.90 740.30L559.90 742.50L559.90 744.70L562.10 746.90L562.10 749.10L562.10 751.30L562.10 753.50L562.10 755.70L562.10 757.90L562.10 760.10L562.10 762.30L562.10 764.50L562.10 766.70L562.10 768.90L562.10 771.10L562.10 773.30L562.10 775.50L562.10 777.70L562.10 779.90L562.10 782.10L562.10 784.30L562.10 786.50L562.10 788.70L562.10 790.90L562.10 793.10L562.10 795.30L562.10 797.50L562.10 799.70L562.10 801.90L562.10 804.10L562.10 806.30L562.10 808.50L562.10 810.70" stroke="#32aa66" stroke-width="1.7" fill="none" stroke-linejoin="round"/>
<g stroke="#32aa66" stroke-width="2.35" fill="#fff">
<path d="M373.00 82.80L383.90 93.20L373.00 103.60L362.10 93.20Z"/>
<path d="M325.40 105.10L336.30 115.50L325.40 125.90L314.50 115.50Z"/>
<path d="M266.20 133.90L277.10 144.30L266.20 154.70L255.30 144.30Z"/>
<path d="M222.20 161.60L233.10 172.00L222.20 182.40L211.30 172.00Z"/>
<path d="M176.80 200.60L187.70 211.00L176.80 221.40L165.90 211.00Z"/>
<path d="M144.90 244.60L155.80 255.00L144.90 265.40L134.00 255.00Z"/>
<path d="M133.00 277.60L143.90 288.00L133.00 298.40L122.10 288.00Z"/>
<path d="M129.60 308.90L140.50 319.30L129.60 329.70L118.70 319.30Z"/>
<path d="M147.50 346.10L158.40 356.50L147.50 366.90L136.60 356.50Z"/>
<path d="M181.30 376.90L192.20 387.30L181.30 397.70L170.40 387.30Z"/>
<path d="M233.20 403.60L244.10 414.00L233.20 424.40L222.30 414.00Z"/>
<path d="M278.20 426.40L289.10 436.80L278.20 447.20L267.30 436.80Z"/>
<path d="M321.70 449.60L332.60 460.00L321.70 470.40L310.80 460.00Z"/>
<path d="M391.00 482.30L401.90 492.70L391.00 503.10L380.10 492.70Z"/>
<path d="M442.40 513.60L453.30 524.00L442.40 534.40L431.50 524.00Z"/>
<path d="M492.40 546.90L503.30 557.30L492.40 567.70L481.50 557.30Z"/>
<path d="M515.50 564.40L526.40 574.80L515.50 585.20L504.60 574.80Z"/>
<path d="M523.00 580.80L533.90 591.20L523.00 601.60L512.10 591.20Z"/>
<path d="M539.10 607.80L550.00 618.20L539.10 628.60L528.20 618.20Z"/>
<path d="M547.00 630.90L557.90 641.30L547.00 651.70L536.10 641.30Z"/>
<path d="M554.80 664.60L565.70 675.00L554.80 685.40L543.90 675.00Z"/>
<path d="M559.40 715.20L570.30 725.60L559.40 736.00L548.50 725.60Z"/>
<path d="M561.30 745.60L572.20 756.00L561.30 766.40L550.40 756.00Z"/>
<path d="M561.50 799.20L572.40 809.60L561.50 820.00L550.60 809.60Z"/>
</g>
<path d="M55.7 653.85H83.7M107 653.85H132.4" stroke="#454545" stroke-width="1.60"/>
<path d="M87.1 643.80L107.4 653.85L87.1 665.00Z" stroke="#454545" stroke-width="2.1" fill="#fff"/>
<path d="M55.7 694.90H82M104.8 694.90H132.4" stroke="#ef4143" stroke-width="1.60"/>
<path d="M101.4 683.90L81.0 694.90L101.4 704.90Z" stroke="#ef4143" stroke-width="2.1" fill="#fff"/>
<path d="M55.7 733.90H132.6" stroke="#176ae0" stroke-width="1.60"/>
<ellipse cx="95" cy="733.9" rx="9.95" ry="9.55" stroke="#176ae0" stroke-width="2.1" fill="#fff"/>
<path d="M55.7 772.60H132.6" stroke="#32aa66" stroke-width="1.60"/>
<path d="M94.2 760.9L104.6 772.5L94.2 783.9L83.8 772.5Z" stroke="#32aa66" stroke-width="2.1" fill="#fff"/>
<text x="140.20" y="665.45" font-size="30.50" textLength="191.00" lengthAdjust="spacingAndGlyphs">Distance 15m</text>
<text x="140.20" y="704.55" font-size="30.50" textLength="191.00" lengthAdjust="spacingAndGlyphs">Distance 20m</text>
<text x="140.20" y="743.75" font-size="30.50" textLength="191.00" lengthAdjust="spacingAndGlyphs">Distance 25m</text>
<text x="140.20" y="784.65" font-size="30.50" textLength="191.00" lengthAdjust="spacingAndGlyphs">Distance 30m</text>
<rect x="618.40" y="356.82" width="15.72" height="23.33" fill="#fff"/>
<path transform="translate(616.563 379.250) scale(0.01622 -0.01523)" d="M763 0L583 0L583 1147C530 1097 460 1047 390 1010C320 972 262 948 223 936L223 1110C310 1150 400 1210 470 1275C545 1345 600 1410 630 1466L763 1466Z" fill="#000"/>
<rect x="618.40" y="496.42" width="15.72" height="23.33" fill="#fff"/>
<path transform="translate(616.563 518.850) scale(0.01622 -0.01523)" d="M763 0L583 0L583 1147C530 1097 460 1047 390 1010C320 972 262 948 223 936L223 1110C310 1150 400 1210 470 1275C545 1345 600 1410 630 1466L763 1466Z" fill="#000"/>
<rect x="272.09" y="643.50" width="14.87" height="22.85" fill="#fff"/>
<path transform="translate(270.403 665.450) scale(0.01527 -0.01489)" d="M763 0L583 0L583 1147C530 1097 460 1047 390 1010C320 972 262 948 223 936L223 1110C310 1150 400 1210 470 1275C545 1345 600 1410 630 1466L763 1466Z" fill="#000"/>
</svg></body></html>
